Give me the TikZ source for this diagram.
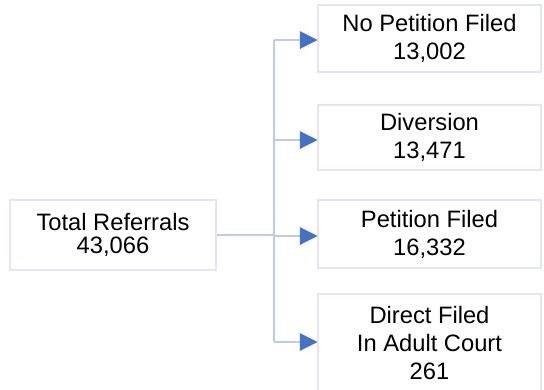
\documentclass[tikz,border=0pt]{standalone}
\usepackage{fontspec}
\setmainfont{Liberation Sans}
\usetikzlibrary{arrows.meta,positioning}
\definecolor{boxline}{HTML}{E2E6F2}
\definecolor{linkline}{HTML}{BCCBE9}
\definecolor{tipblue}{HTML}{4472C4}
\tikzset{
    stagebox/.style={draw=boxline, line width=0.6pt, align=center, inner sep=0pt,
        font=\fontsize{13.5}{15.9}\selectfont},
    link/.style={draw=linkline, line width=0.6pt},
    feed/.style={link, -{Triangle[length=10pt, width=10pt, color=tipblue]}}
}

\begin{document}
\begin{tikzpicture}[x=0.02cm, y=-0.02cm]
                        \useasboundingbox (0, 0) rectangle (544, 389);
                        \node[stagebox, minimum width=4.12cm, minimum height=1.4cm,
                            font=\fontsize{13.5}{13}\selectfont] (total) at (113, 235) {Total Referrals\\43,066};
                        \node[stagebox, minimum width=4.46cm, minimum height=1.34cm] (nopet) at (429.5, 38.5) {No Petition Filed\\13,002};
                        \node[stagebox, minimum width=4.46cm, minimum height=1.3cm] (divert) at (429.5, 137.5) {Diversion\\13,471};
                        \node[stagebox, minimum width=4.46cm, minimum height=1.36cm] (petit) at (429.5, 234) {Petition Filed\\16,332};
                        \node[stagebox, minimum width=4.46cm, minimum height=1.96cm] (adult) at (429.5, 343) {Direct Filed\\In Adult Court\\261};

                        % junctions on the trunk
                        \coordinate (j1) at (274, 40);
                        \coordinate (j2) at (274, 140);
                        \coordinate (j3) at (274, 236);
                        \coordinate (j4) at (274, 342);

                        \draw[link] (total.east) -- (total.east -| j3);
                        \draw[link] (j1) -- (j4);
                        \draw[feed] (j1) -- (j1 -| nopet.west);
                        \draw[feed] (j2) -- (j2 -| divert.west);
                        \draw[feed] (j3) -- (j3 -| petit.west);
                        \draw[feed] (j4) -- (j4 -| adult.west);
                    \end{tikzpicture}
\end{document}
